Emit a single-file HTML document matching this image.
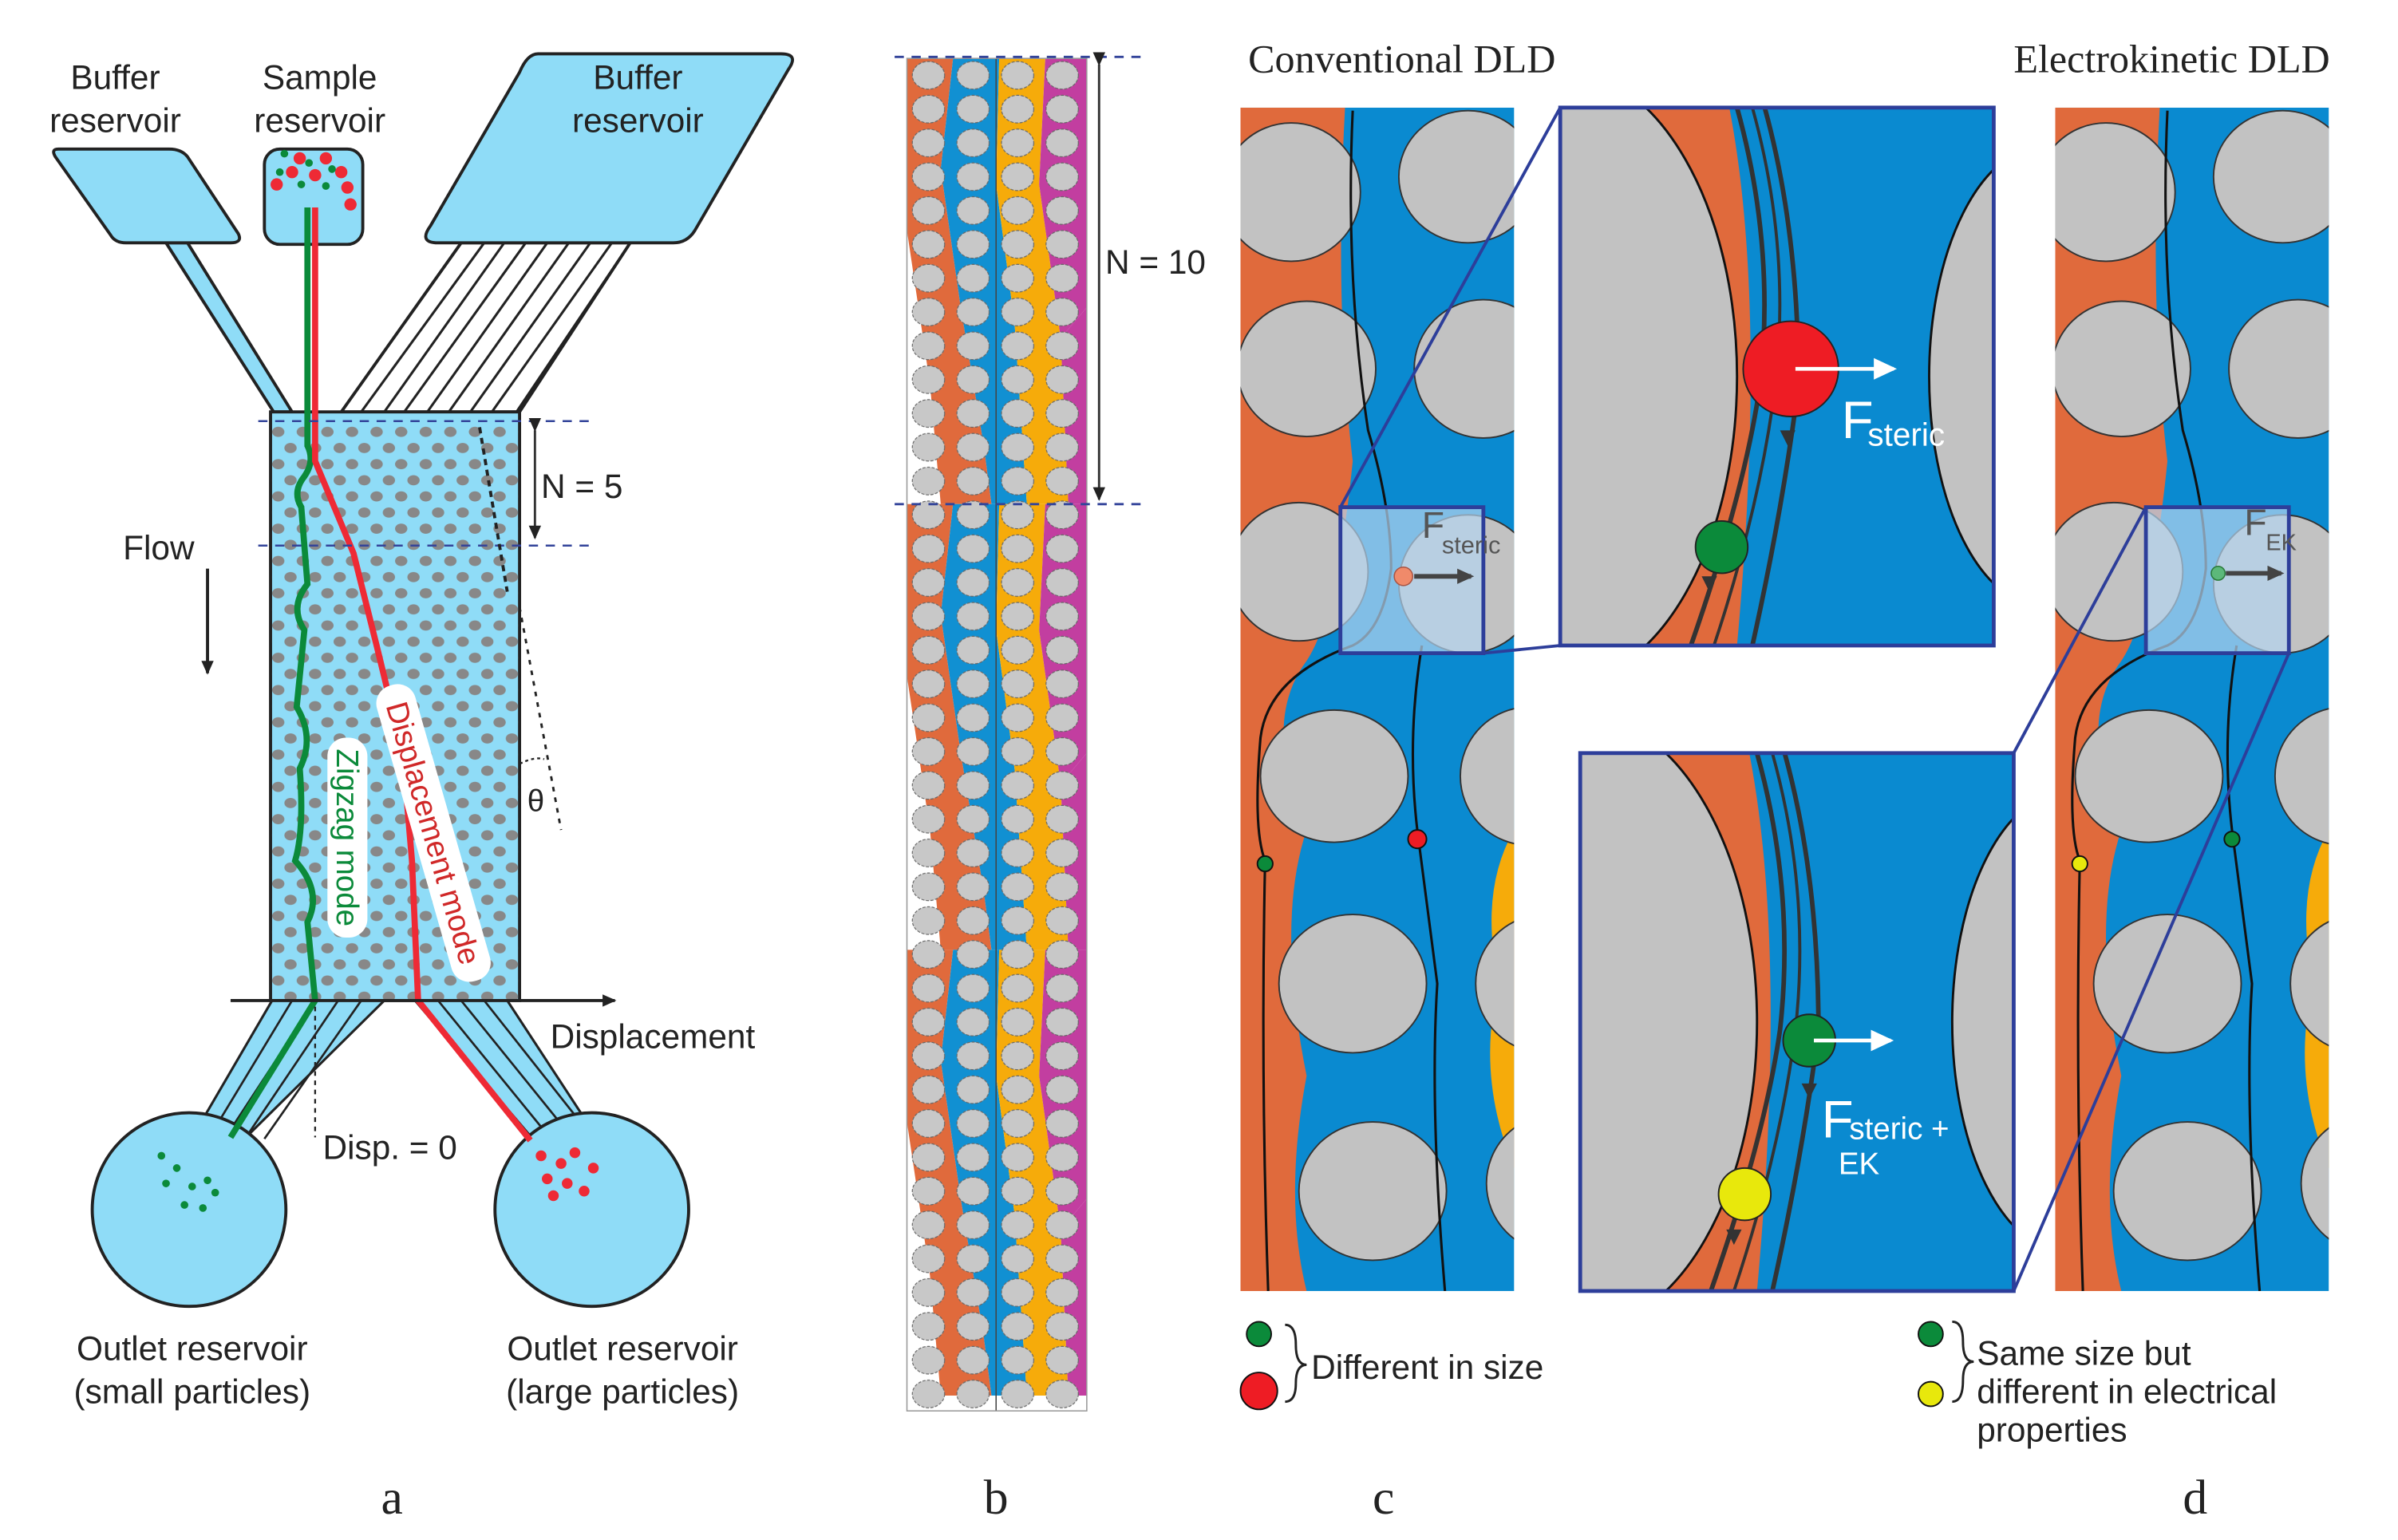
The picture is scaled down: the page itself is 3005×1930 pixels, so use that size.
<!DOCTYPE html>
<html><head><meta charset="utf-8"><style>
html,body{margin:0;padding:0;background:#fff}
svg{display:block}
text{font-family:"Liberation Sans",sans-serif}
text.serif{font-family:"Liberation Serif",serif}
</style></head><body>
<svg width="3005" height="1930" viewBox="0 0 1560 1002" preserveAspectRatio="none" xmlns="http://www.w3.org/2000/svg">
<defs>
<pattern id="dots" x="177" y="276" width="16" height="21" patternUnits="userSpaceOnUse">
<ellipse cx="4" cy="5" rx="4" ry="3.3" fill="#888"/><ellipse cx="12" cy="15.5" rx="4" ry="3.3" fill="#888"/>
</pattern>
<pattern id="pillars" x="590" y="38" width="29" height="22" patternUnits="userSpaceOnUse">
<ellipse cx="14" cy="11" rx="10.5" ry="9" fill="#c8c8c8" stroke="#666" stroke-width="0.6" stroke-dasharray="2 1"/>
</pattern>
<marker id="ah" markerWidth="10" markerHeight="10" refX="8" refY="5" orient="auto" markerUnits="userSpaceOnUse"><path d="M0,1 L9,5 L0,9z" fill="#222"/></marker>
<marker id="ahg" markerWidth="12" markerHeight="12" refX="9" refY="6" orient="auto" markerUnits="userSpaceOnUse"><path d="M0,1 L11,6 L0,11z" fill="#444"/></marker>
<marker id="ahw" markerWidth="16" markerHeight="16" refX="13" refY="8" orient="auto" markerUnits="userSpaceOnUse"><path d="M0,1 L15,8 L0,15z" fill="#fff"/></marker>
<clipPath id="cb"><rect x="590" y="38" width="117" height="880"/></clipPath>
<clipPath id="cc"><rect x="807" y="70" width="178" height="770"/></clipPath>
<clipPath id="ci1"><rect x="1015" y="70" width="282" height="350"/></clipPath>
<clipPath id="ci2"><rect x="1028" y="490" width="282" height="350"/></clipPath>
</defs>

<!-- PANEL A -->
<g stroke="#222" stroke-width="2">
<path d="M108,158 L178,268 L190,268 L122,158z" fill="#8fdcf7"/>
<path d="M300,158 L222,268 L338,268 L410,158z" fill="#fff"/>
<g stroke-width="1.6" fill="none">
<path d="M300,158 L222,268"/><path d="M315,158 L235,268"/><path d="M328,158 L250,268"/><path d="M342,158 L263,268"/><path d="M356,158 L278,268"/><path d="M370,158 L292,268"/><path d="M384,158 L306,268"/><path d="M398,158 L320,268"/><path d="M410,158 L336,268"/>
</g>
<path d="M38,97 L110,97 Q118,97 122,102 L155,152 Q158,158 150,158 L82,158 Q75,158 72,153 L36,102 Q33,97 38,97z" fill="#8fdcf7"/>
<rect x="172" y="97" width="64" height="62" rx="10" fill="#8fdcf7"/>
<path d="M350,35 L508,35 Q520,35 513,45 L452,150 Q447,158 438,158 L285,158 Q272,158 280,147 L338,47 Q343,35 350,35z" fill="#8fdcf7"/>
<rect x="176" y="268" width="162" height="383" fill="#8fdcf7"/>
</g>
<rect x="177" y="276" width="160" height="374" fill="url(#dots)"/>
<g stroke="#222" stroke-width="1.6" fill="#8fdcf7">
<path d="M177,651 L128,735 L160,740 L250,651z"/>
<path d="M270,651 L350,745 L385,735 L330,651z"/>
</g>
<g stroke="#222" stroke-width="1.4" fill="none">
<path d="M190,651 L138,737"/><path d="M205,651 L148,738"/><path d="M220,651 L160,740"/><path d="M235,651 L172,741"/>
<path d="M285,651 L360,743"/><path d="M300,651 L372,740"/><path d="M315,651 L383,737"/>
</g>
<circle cx="123" cy="787" r="63" fill="#8fdcf7" stroke="#222" stroke-width="2"/>
<circle cx="385" cy="787" r="63" fill="#8fdcf7" stroke="#222" stroke-width="2"/>
<path d="M200,135 L200,290 Q205,300 198,310 Q190,320 196,330 L200,380 Q188,395 198,410 Q195,440 193,460 Q205,480 195,500 Q198,540 192,560 Q210,580 200,600 L205,651 L150,740" stroke="#0b8a3a" stroke-width="4" fill="none"/>
<path d="M205,135 L205,300 L230,360 L245,420 L262,490 L268,560 L272,651 L345,742" stroke="#ee2a35" stroke-width="4" fill="none"/>
<g fill="#ee2a35"><circle cx="195" cy="103" r="4"/><circle cx="212" cy="103" r="4"/><circle cx="190" cy="112" r="4"/><circle cx="205" cy="114" r="4"/><circle cx="222" cy="112" r="4"/><circle cx="180" cy="120" r="4"/><circle cx="226" cy="122" r="4"/><circle cx="228" cy="133" r="4"/>
<circle cx="352" cy="752" r="3.5"/><circle cx="365" cy="757" r="3.5"/><circle cx="374" cy="750" r="3.5"/><circle cx="386" cy="760" r="3.5"/><circle cx="356" cy="767" r="3.5"/><circle cx="369" cy="770" r="3.5"/><circle cx="380" cy="775" r="3.5"/><circle cx="360" cy="778" r="3.5"/></g>
<g fill="#0b8a3a"><circle cx="185" cy="100" r="2.5"/><circle cx="201" cy="106" r="2.5"/><circle cx="216" cy="110" r="2.5"/><circle cx="182" cy="112" r="2.5"/><circle cx="196" cy="120" r="2.5"/><circle cx="212" cy="121" r="2.5"/>
<circle cx="105" cy="752" r="2.5"/><circle cx="115" cy="760" r="2.5"/><circle cx="108" cy="770" r="2.5"/><circle cx="125" cy="772" r="2.5"/><circle cx="135" cy="768" r="2.5"/><circle cx="120" cy="784" r="2.5"/><circle cx="132" cy="786" r="2.5"/><circle cx="140" cy="776" r="2.5"/></g>
<g transform="translate(226,545) rotate(90)"><rect x="-65" y="-13" width="130" height="26" rx="12" fill="#fff"/><text x="0" y="7" text-anchor="middle" font-size="20" fill="#0b8a3a">Zigzag mode</text></g>
<g transform="translate(282,542) rotate(74)"><rect x="-100" y="-13" width="200" height="26" rx="12" fill="#fff"/><text x="0" y="7" text-anchor="middle" font-size="20" fill="#d02828">Displacement mode</text></g>
<g stroke="#33449a" stroke-width="1.3" stroke-dasharray="6 5"><line x1="168" y1="274" x2="385" y2="274"/><line x1="168" y1="355" x2="385" y2="355"/></g>
<line x1="348" y1="280" x2="348" y2="350" stroke="#333" stroke-width="1.5" marker-end="url(#ah)" marker-start="url(#ah)"/>
<text x="352" y="324" font-size="22" fill="#222">N = 5</text>
<path d="M312,278 L330,385" stroke="#222" stroke-width="2" stroke-dasharray="4 3" fill="none"/>
<path d="M338,395 L365,540" stroke="#222" stroke-width="1.5" stroke-dasharray="3 4" fill="none"/>
<path d="M338,497 Q348,492 354,494" stroke="#222" stroke-width="1.2" stroke-dasharray="2 2" fill="none"/>
<text x="343" y="528" font-size="20" fill="#222">θ</text>
<line x1="135" y1="370" x2="135" y2="438" stroke="#222" stroke-width="2" marker-end="url(#ah)"/>
<text x="80" y="364" font-size="22" fill="#222">Flow</text>
<line x1="150" y1="651" x2="400" y2="651" stroke="#222" stroke-width="2" marker-end="url(#ah)"/>
<text x="358" y="682" font-size="22" fill="#222">Displacement</text>
<line x1="205" y1="655" x2="205" y2="740" stroke="#222" stroke-width="1.2" stroke-dasharray="3 3"/>
<text x="210" y="754" font-size="22" fill="#222">Disp. = 0</text>
<g font-size="22" fill="#222" text-anchor="middle">
<text x="75" y="58">Buffer</text><text x="75" y="86">reservoir</text>
<text x="208" y="58">Sample</text><text x="208" y="86">reservoir</text>
<text x="415" y="58">Buffer</text><text x="415" y="86">reservoir</text>
<text x="125" y="885">Outlet  reservoir</text><text x="125" y="913">(small particles)</text>
<text x="405" y="885">Outlet reservoir</text><text x="405" y="913">(large particles)</text>
</g>

<!-- PANEL B -->
<g clip-path="url(#cb)">
<rect x="590" y="38" width="117" height="880" fill="#fff"/>
<g id="per">
<path d="M590,38 L620,38 L612,110 L625,200 L640,290 L645,328 L612,328 L605,250 L590,150z" fill="#e06a3c"/>
<path d="M620,38 L650,38 L648,120 L660,210 L668,328 L645,328 L640,290 L625,200 L612,110z" fill="#1190d2"/>
<path d="M650,38 L680,38 L676,120 L690,220 L695,328 L668,328 L660,210 L648,120z" fill="#f6ab0a"/>
<path d="M680,38 L707,38 L707,200 L690,220 L676,120z" fill="#c23ea0"/>
<path d="M690,220 L707,200 L707,328 L695,328z" fill="#c23ea0"/>
</g>
<use href="#per" transform="translate(0,290)"/>
<use href="#per" transform="translate(0,580)"/>
<rect x="590" y="38" width="117" height="880" fill="url(#pillars)"/>
</g>
<line x1="648" y1="38" x2="648" y2="918" stroke="#444" stroke-width="0.8"/>
<rect x="590" y="38" width="117" height="880" fill="none" stroke="#999" stroke-width="0.8"/>
<g stroke="#33449a" stroke-width="1.5" stroke-dasharray="6 5"><line x1="582" y1="37" x2="742" y2="37"/><line x1="582" y1="328" x2="742" y2="328"/></g>
<line x1="715" y1="42" x2="715" y2="325" stroke="#333" stroke-width="1.5" marker-end="url(#ah)" marker-start="url(#ah)"/>
<text x="719" y="178" font-size="22" fill="#222">N = 10</text>

<!-- PANEL C -->
<g id="pc">
<g clip-path="url(#cc)">
<rect x="807" y="70" width="178" height="770" fill="#0a8ad0"/>
<path d="M807,70 L875,70 Q868,200 880,300 Q870,400 850,430 Q820,470 850,540 Q830,600 850,700 Q835,780 850,840 L807,840z" fill="#e06a3c"/>
<path d="M985,540 Q962,580 975,640 Q960,700 985,760z" fill="#f6ab0a"/>
<g fill="#c2c2c2" stroke="#333" stroke-width="1">
<ellipse cx="840" cy="125" rx="45" ry="45"/><ellipse cx="850" cy="240" rx="45" ry="44"/><ellipse cx="845" cy="372" rx="45" ry="45"/>
<ellipse cx="868" cy="505" rx="48" ry="43"/><ellipse cx="880" cy="640" rx="48" ry="45"/><ellipse cx="893" cy="775" rx="48" ry="45"/>
<ellipse cx="955" cy="115" rx="45" ry="43"/><ellipse cx="965" cy="240" rx="45" ry="45"/><ellipse cx="955" cy="380" rx="45" ry="45"/>
<ellipse cx="995" cy="505" rx="45" ry="45"/><ellipse cx="1005" cy="640" rx="45" ry="45"/><ellipse cx="1012" cy="770" rx="45" ry="45"/>
</g>
<path d="M880,72 Q875,180 890,280 Q905,330 905,370 Q900,410 880,420 Q825,440 820,480 Q815,540 823,560 Q820,700 825,840" stroke="#111" stroke-width="1.6" fill="none"/>
<path d="M925,420 Q915,480 922,540 Q930,600 935,640 Q930,720 940,840" stroke="#111" stroke-width="1.6" fill="none"/>
</g>
</g>
<circle cx="823" cy="562" r="5" fill="#0b8a3a" stroke="#111"/>
<circle cx="922" cy="546" r="6" fill="#ee1c24" stroke="#111"/>
<rect x="872" y="330" width="93" height="95" fill="#b4d4f0" fill-opacity="0.7" stroke="#2d3e9a" stroke-width="2.5"/>
<circle cx="913" cy="375" r="6" fill="#f08a6a" stroke="#aa5544" stroke-width="0.8"/>
<line x1="920" y1="375" x2="957" y2="375" stroke="#444" stroke-width="3" marker-end="url(#ahg)"/>
<text x="925" y="350" font-size="24" fill="#555">F</text><text x="938" y="360" font-size="16" fill="#555">steric</text>
<g stroke="#2d3e9a" stroke-width="2"><line x1="872" y1="330" x2="1015" y2="70"/><line x1="965" y1="425" x2="1015" y2="420"/></g>

<g clip-path="url(#ci1)">
<rect x="1015" y="70" width="282" height="350" fill="#0a8ad0"/>
<path d="M1015,70 L1125,70 Q1150,200 1130,420 L1015,420z" fill="#e06a3c"/>
<ellipse cx="1015" cy="245" rx="115" ry="200" fill="#c2c2c2" stroke="#111" stroke-width="1.5"/>
<ellipse cx="1330" cy="245" rx="75" ry="150" fill="#c2c2c2" stroke="#111" stroke-width="1.5"/>
<path d="M1130,70 Q1155,160 1145,250 Q1135,320 1100,420" stroke="#333" stroke-width="3" fill="none"/>
<path d="M1140,70 Q1165,160 1155,250 Q1145,330 1115,420" stroke="#333" stroke-width="2" fill="none"/>
<path d="M1148,70 Q1170,150 1170,250 Q1160,330 1140,420" stroke="#333" stroke-width="3" fill="none"/>
<path d="M1158,280 L1163,290 L1168,280z" fill="#333"/>
<path d="M1107,375 L1112,385 L1117,375z" fill="#333"/>
<circle cx="1165" cy="240" r="31" fill="#ee1c24" stroke="#222"/>
<circle cx="1120" cy="356" r="17" fill="#0b8a3a" stroke="#222"/>
<line x1="1168" y1="240" x2="1232" y2="240" stroke="#fff" stroke-width="2.5" marker-end="url(#ahw)"/>
<text x="1198" y="285" font-size="34" fill="#fff">F</text><text x="1215" y="290" font-size="21" fill="#fff">steric</text>
</g>
<rect x="1015" y="70" width="282" height="350" fill="none" stroke="#2d3e9a" stroke-width="2.5"/>

<g clip-path="url(#ci2)">
<rect x="1028" y="490" width="282" height="350" fill="#0a8ad0"/>
<path d="M1028,490 L1138,490 Q1163,620 1143,840 L1028,840z" fill="#e06a3c"/>
<ellipse cx="1028" cy="665" rx="115" ry="200" fill="#c2c2c2" stroke="#111" stroke-width="1.5"/>
<ellipse cx="1345" cy="665" rx="75" ry="150" fill="#c2c2c2" stroke="#111" stroke-width="1.5"/>
<path d="M1143,490 Q1168,580 1158,670 Q1148,740 1113,840" stroke="#333" stroke-width="3" fill="none"/>
<path d="M1153,490 Q1178,580 1168,670 Q1158,750 1128,840" stroke="#333" stroke-width="2" fill="none"/>
<path d="M1161,490 Q1183,570 1183,670 Q1173,750 1153,840" stroke="#333" stroke-width="3" fill="none"/>
<path d="M1172,705 L1177,715 L1182,705z" fill="#333"/>
<path d="M1123,800 L1128,810 L1133,800z" fill="#333"/>
<circle cx="1177" cy="677" r="17" fill="#0b8a3a" stroke="#222"/>
<circle cx="1135" cy="777" r="17" fill="#e8e80c" stroke="#222"/>
<line x1="1180" y1="677" x2="1230" y2="677" stroke="#fff" stroke-width="2.5" marker-end="url(#ahw)"/>
<text x="1185" y="740" font-size="34" fill="#fff">F</text><text x="1203" y="741" font-size="20" fill="#fff">steric +</text>
<text x="1196" y="764" font-size="20" fill="#fff">EK</text>
</g>
<rect x="1028" y="490" width="282" height="350" fill="none" stroke="#2d3e9a" stroke-width="2.5"/>

<!-- PANEL D -->
<use href="#pc" transform="translate(530,0)"/>
<circle cx="1353" cy="562" r="5" fill="#e8e80c" stroke="#111"/>
<circle cx="1452" cy="546" r="5" fill="#0b8a3a" stroke="#111"/>
<rect x="1396" y="330" width="93" height="95" fill="#b4d4f0" fill-opacity="0.7" stroke="#2d3e9a" stroke-width="2.5"/>
<circle cx="1443" cy="373" r="4.5" fill="#5cb87a" stroke="#2a7a3a" stroke-width="0.8"/>
<line x1="1448" y1="373" x2="1484" y2="373" stroke="#444" stroke-width="3" marker-end="url(#ahg)"/>
<text x="1460" y="348" font-size="24" fill="#555">F</text><text x="1474" y="358" font-size="15" fill="#555">EK</text>
<g stroke="#2d3e9a" stroke-width="2"><line x1="1396" y1="330" x2="1310" y2="490"/><line x1="1489" y1="425" x2="1310" y2="840"/></g>

<text class="serif" x="812" y="47" font-size="26" fill="#222">Conventional DLD</text>
<text class="serif" x="1310" y="47" font-size="26" fill="#222">Electrokinetic DLD</text>

<circle cx="819" cy="868" r="8" fill="#0b8a3a" stroke="#111"/>
<circle cx="819" cy="905" r="12" fill="#ee1c24" stroke="#111"/>
<path d="M836,862 Q843,862 843,875 Q843,888 850,888 Q843,888 843,900 Q843,912 836,912" stroke="#222" stroke-width="1.5" fill="none"/>
<text x="853" y="897" font-size="22" fill="#222">Different in size</text>
<circle cx="1256" cy="868" r="8" fill="#0b8a3a" stroke="#111"/>
<circle cx="1256" cy="907" r="8" fill="#e8e80c" stroke="#111"/>
<path d="M1270,860 Q1277,860 1277,873 Q1277,886 1284,886 Q1277,886 1277,898 Q1277,912 1270,912" stroke="#222" stroke-width="1.5" fill="none"/>
<g font-size="22" fill="#222"><text x="1286" y="888">Same size but</text><text x="1286" y="913">different in electrical</text><text x="1286" y="938">properties</text></g>

<g font-size="32" fill="#222" text-anchor="middle">
<text class="serif" x="255" y="985">a</text>
<text class="serif" x="648" y="985">b</text>
<text class="serif" x="900" y="985">c</text>
<text class="serif" x="1428" y="985">d</text>
</g>
</svg>
</body></html>
